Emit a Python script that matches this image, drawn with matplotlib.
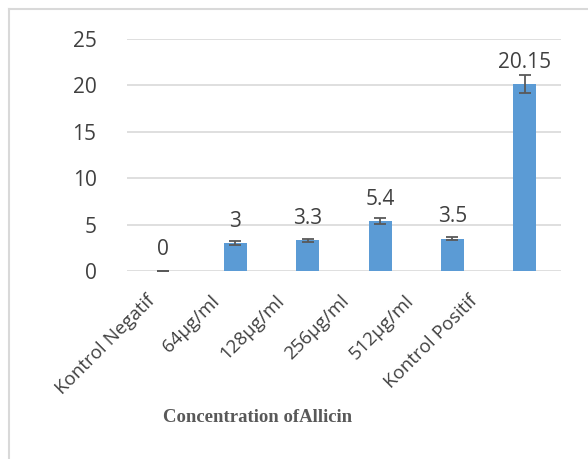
import matplotlib.pyplot as plt
from matplotlib.lines import Line2D
from matplotlib.transforms import ScaledTranslation

# Data
categories = ['Kontrol Negatif', '64µg/ml', '128µg/ml', '256µg/ml', '512µg/ml', 'Kontrol Positif']
values = [0, 3, 3.3, 5.4, 3.5, 20.15]
errors = [0, 0.2, 0.2, 0.3, 0.2, 1.0]
labels = ['0', '3', '3.3', '5.4', '3.5', '20.15']
yticks = [0, 5, 10, 15, 20, 25]

plt.rcParams['font.family'] = ['Open Sans', 'DejaVu Sans']
text_col = '#404040'

fig = plt.figure(figsize=(5.88, 4.59), dpi=100)
ax = fig.add_axes([0.216, 0.4096, 0.738, 0.5054])

x = range(len(categories))
ax.bar(x, values, width=0.32, color='#5B9BD5', zorder=3)
ax.errorbar(x, values, yerr=errors, fmt='none', ecolor='#595959',
            elinewidth=1.3, capsize=4.5, capthick=1.3, zorder=4)

for i, (v, lab) in enumerate(zip(values, labels)):
    ax.annotate(lab, (i, v), xytext=(0, 8), textcoords='offset points',
                ha='center', va='bottom', fontsize=15, color=text_col,
                annotation_clip=False)

ax.set_ylim(0, 25)
ax.set_xlim(-0.5, len(categories) - 0.5)
ax.set_yticks(yticks)
ax.set_yticklabels([str(t) for t in yticks], fontsize=15, color=text_col)
ax.set_xticks(list(x))
ax.set_xticklabels(categories, rotation=45, ha='right', va='top', rotation_mode='anchor',
                   fontsize=13.5, color=text_col)
ax.tick_params(axis='both', length=0)
ax.tick_params(axis='y', pad=22)
ax.tick_params(axis='x', pad=15)
# the labels in the source sit a bit left of their bars, more so to the right
for i, t in enumerate(ax.get_xticklabels()):
    t.set_transform(t.get_transform() +
                    ScaledTranslation(-(0.17 + 0.078 * i), 0, fig.dpi_scale_trans))
ax.grid(axis='y', color='#D9D9D9', linewidth=1.2, zorder=0)
for s in ax.spines.values():
    s.set_visible(False)

fig.text(258 / 588, 1 - 418 / 459, 'Concentration ofAllicin', ha='center', va='center',
         fontsize=13.5, fontweight='bold', family='Liberation Serif', color='#595959')

# chart frame (left and top edges visible)
fig.add_artist(Line2D([9 / 588, 9 / 588], [0, 1 - 9 / 459], color='#D9D9D9', lw=1.5,
                      transform=fig.transFigure))
fig.add_artist(Line2D([9 / 588, 1], [1 - 9 / 459, 1 - 9 / 459], color='#D9D9D9', lw=1.5,
                      transform=fig.transFigure))

fig.savefig('out.png', dpi=100)
